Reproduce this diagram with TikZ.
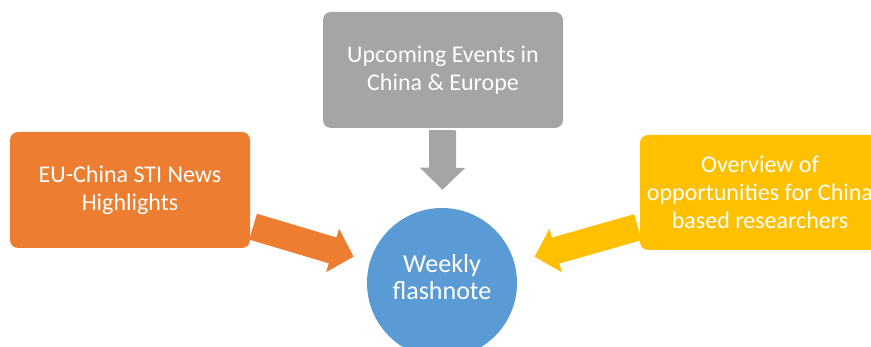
\documentclass[tikz,border=0pt]{standalone}
\usepackage{fontspec}
\setmainfont{Carlito}
\usetikzlibrary{arrows.meta}
\usepackage{xcolor}
\definecolor{evgray}{HTML}{A5A5A5}
\definecolor{newsorange}{HTML}{ED7D31}
\definecolor{oppyellow}{HTML}{FFC000}
\definecolor{noteblue}{HTML}{5B9BD5}

\begin{document}
\begin{tikzpicture}[x=1pt, y=-1pt]
        % ================= 样式定义 =================
        \tikzset{
            % 信息块样式:圆角矩形
            infobox/.style={rectangle, rounded corners=8pt, minimum width=240pt, minimum height=116pt,
                inner sep=0pt, align=center, text=white, font=\fontsize{24}{28}\selectfont},
            % 中心样式:圆
            hub/.style={circle, fill=noteblue, minimum size=150pt, inner sep=0pt, align=center,
                text=white, text depth=13pt, font=\fontsize{26}{27}\selectfont},
            % 粗箭头
            fatarrow/.style={line width=27pt, -{Triangle[width=44pt, length=22pt]}}
        }

        % 画布范围
        \useasboundingbox (0,0) rectangle (871,347);
        \clip (0,0) rectangle (871,347);

        % ================= 节点 =================
        \node[infobox, fill=evgray] (events) at (443, 70) {Upcoming Events in\\China \& Europe};
        \node[infobox, fill=newsorange] (news) at (130, 190) {EU-China STI News\\Highlights};
        \node[infobox, fill=oppyellow, minimum height=115pt] (opps) at (760, 192.5)
            {Overview of\\opportunities for China\\based researchers};
        \node[hub] (note) at (442, 283) {Weekly\\flashnote};

        % ================= 箭头 =================
        % 上方 (灰)
        \draw[fatarrow, evgray, shorten <=2pt, shorten >=18pt] (events) -- (note);
        % 左侧 (橙)
        \draw[fatarrow, newsorange, shorten <=3pt, shorten >=17pt] (news) -- (note);
        % 右侧 (黄)
        \draw[fatarrow, oppyellow, shorten <=2pt, shorten >=21pt] (opps) -- (note);

    \end{tikzpicture}
\end{document}
